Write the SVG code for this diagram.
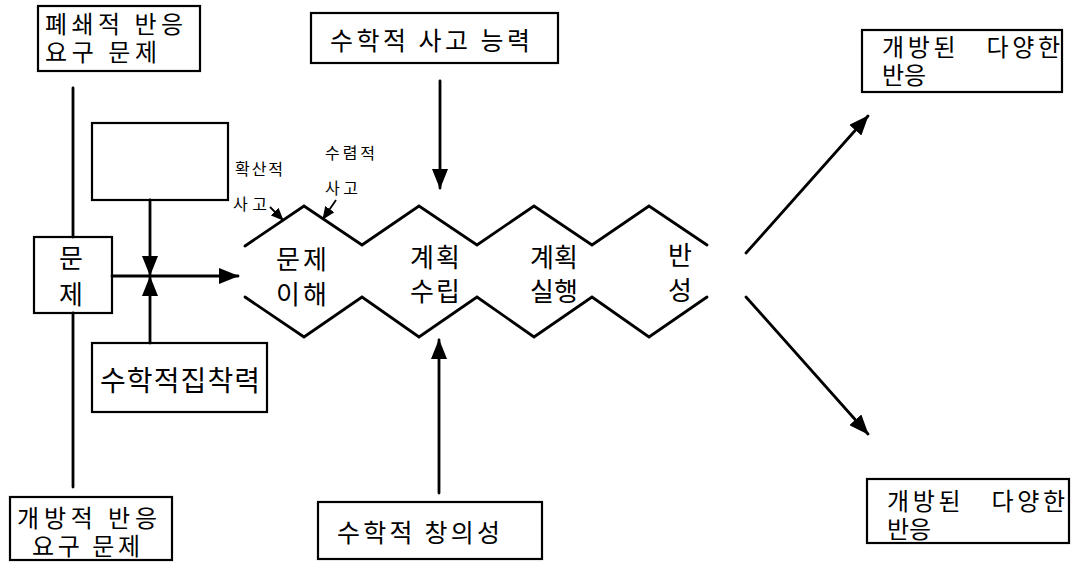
<svg xmlns="http://www.w3.org/2000/svg" width="1072" height="562" viewBox="0 0 1072 562">
  <style>
    .box { fill: #fff; stroke: #000; stroke-width: 2.2; }
    .ln { fill: none; stroke: #000; stroke-width: 2.8; stroke-linecap: round; stroke-linejoin: miter; }
    .thin { fill: none; stroke: #000; stroke-width: 1.8; }
    .t { font-family: "Noto Sans CJK KR", "Noto Sans", sans-serif; fill: #000; white-space: pre; }
    .big { font-size: 26px; }
    .mid { font-size: 24px; }
    .sm { font-size: 16px; }
  </style>
  <defs>
    <marker id="ah" markerUnits="userSpaceOnUse" markerWidth="20" markerHeight="16" refX="19" refY="8" orient="auto">
      <path d="M0,0 L20,8 L0,16 z" fill="#000"/>
    </marker>
    <marker id="ahs" markerUnits="userSpaceOnUse" markerWidth="13" markerHeight="11" refX="12" refY="5.5" orient="auto">
      <path d="M0,0 L13,5.5 L0,11 z" fill="#000"/>
    </marker>
  </defs>

  <!-- problem-type boxes on the left -->
  <g id="closed-problem">
    <rect class="box" x="38" y="6" width="162" height="65"/>
    <text class="t mid"><tspan x="45" y="33" textLength="138" lengthAdjust="spacing">폐쇄적 반응</tspan><tspan x="45" y="61" textLength="112" lengthAdjust="spacing">요구 문제</tspan></text>
  </g>
  <g id="open-problem">
    <rect class="box" x="10" y="497" width="162" height="63"/>
    <text class="t mid"><tspan x="17" y="527" textLength="140" lengthAdjust="spacing">개방적 반응</tspan><tspan x="32" y="555" textLength="108" lengthAdjust="spacing">요구 문제</tspan></text>
  </g>
  <g id="problem">
    <rect class="box" x="34" y="237" width="78" height="76"/>
    <text class="t big" text-anchor="middle"><tspan x="71" y="268">문</tspan><tspan x="71" y="304">제</tspan></text>
  </g>
  <g id="blank-box">
    <rect class="box" x="92" y="123" width="136" height="77"/>
  </g>
  <g id="persistence">
    <rect class="box" x="92" y="343" width="175" height="69"/>
    <text class="t" style="font-size:28px" x="100" y="391" textLength="160" lengthAdjust="spacing">수학적집착력</text>
  </g>

  <!-- top and bottom influence boxes -->
  <g id="thinking-ability">
    <rect class="box" x="311" y="13" width="247" height="50"/>
    <text class="t" style="font-size:25px" x="330" y="50" textLength="200" lengthAdjust="spacing">수학적 사고 능력</text>
  </g>
  <g id="creativity">
    <rect class="box" x="318" y="502" width="224" height="57"/>
    <text class="t" style="font-size:25px" x="337" y="542" textLength="163" lengthAdjust="spacing">수학적 창의성</text>
  </g>

  <!-- outcome boxes on the right -->
  <g id="outcome-top">
    <rect class="box" x="862" y="30" width="200" height="62"/>
    <text class="t mid"><tspan x="882" y="56" textLength="178" lengthAdjust="spacing">개방된   다양한</tspan><tspan x="882" y="84">반응</tspan></text>
  </g>
  <g id="outcome-bottom">
    <rect class="box" x="867" y="479" width="202" height="64"/>
    <text class="t mid"><tspan x="887" y="510" textLength="178" lengthAdjust="spacing">개방된   다양한</tspan><tspan x="887" y="538">반응</tspan></text>
  </g>

  <!-- zigzag channel of the four problem-solving stages -->
  <g id="stages">
    <polyline class="ln" points="245,246 304,206 362,245 419,206 477,245 534,206 592,245 649,206 707,245"/>
    <polyline class="ln" points="245,297 304,337 362,297 419,337 477,297 534,337 592,297 649,337 707,297"/>
    <text class="t big"><tspan x="276" y="269" textLength="51" lengthAdjust="spacing">문제</tspan><tspan x="276" y="304" textLength="51" lengthAdjust="spacing">이해</tspan></text>
    <text class="t big"><tspan x="410" y="267" textLength="50" lengthAdjust="spacing">계획</tspan><tspan x="410" y="301" textLength="50" lengthAdjust="spacing">수립</tspan></text>
    <text class="t big"><tspan x="530" y="267" textLength="48" lengthAdjust="spacing">계획</tspan><tspan x="530" y="301" textLength="48" lengthAdjust="spacing">실행</tspan></text>
    <text class="t big" text-anchor="middle"><tspan x="680" y="265">반</tspan><tspan x="680" y="300">성</tspan></text>
  </g>

  <!-- thinking-mode labels -->
  <g id="divergent">
    <text class="t sm" x="235" y="175" textLength="48" lengthAdjust="spacing">확산적</text>
    <text class="t sm" x="233" y="210" textLength="34" lengthAdjust="spacing">사고</text>
  </g>
  <g id="convergent">
    <text class="t sm" x="325" y="159" textLength="50" lengthAdjust="spacing">수렴적</text>
    <text class="t sm" x="325" y="194" textLength="33" lengthAdjust="spacing">사고</text>
  </g>

  <!-- connectors -->
  <g id="connectors">
    <line class="ln" x1="73" y1="88" x2="73" y2="237"/>
    <line class="ln" x1="73" y1="313" x2="73" y2="487"/>
    <line class="ln" x1="112" y1="276" x2="238" y2="276" marker-end="url(#ah)"/>
    <line class="ln" x1="150" y1="200" x2="150" y2="275" marker-end="url(#ah)"/>
    <line class="ln" x1="150" y1="343" x2="150" y2="277" marker-end="url(#ah)"/>
    <line class="ln" x1="440" y1="81" x2="440" y2="188" marker-end="url(#ah)"/>
    <line class="ln" x1="439" y1="493" x2="439" y2="340" marker-end="url(#ah)"/>
    <line class="ln" x1="746" y1="253" x2="868" y2="116" marker-end="url(#ah)"/>
    <line class="ln" x1="746" y1="297" x2="868" y2="434" marker-end="url(#ah)"/>
    <line class="thin" x1="270" y1="207" x2="283" y2="220" marker-end="url(#ahs)"/>
    <line class="thin" x1="336" y1="200" x2="323" y2="219" marker-end="url(#ahs)"/>
  </g>
</svg>
